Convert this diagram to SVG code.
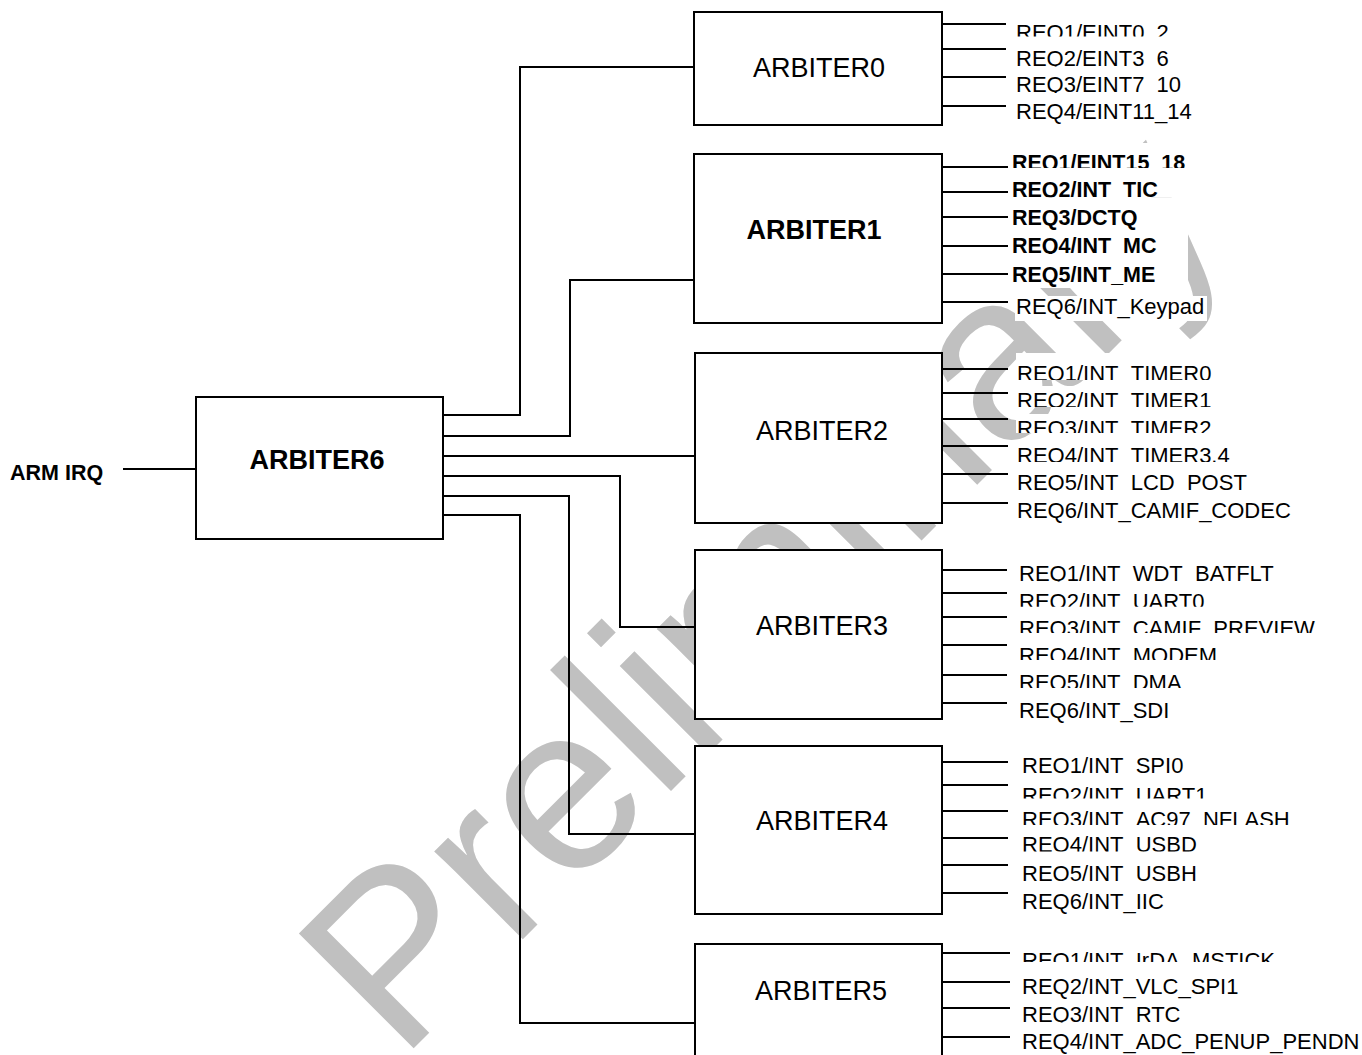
<svg xmlns="http://www.w3.org/2000/svg" width="1362" height="1055" viewBox="0 0 1362 1055">
<style>
.box{fill:#fff;stroke:#000;stroke-width:2}
.wire{fill:none;stroke:#000;stroke-width:2}
.t{font-family:"Liberation Sans",Arial,sans-serif;font-size:22px;fill:#000}
.b{font-weight:bold;font-size:21.5px}
.name{font-size:27px;text-anchor:middle}
.bg{fill:#fff}
.wm{font-family:"Liberation Sans",Arial,sans-serif;font-size:236px;fill:#c0c0c0}
</style>
<defs>
<clipPath id="c0a" clipPathUnits="userSpaceOnUse"><rect x="1000" y="0" width="400" height="36.5"/></clipPath>
<clipPath id="c0b" clipPathUnits="userSpaceOnUse"><rect x="1000" y="30" width="400" height="36.5"/></clipPath>
<clipPath id="c0c" clipPathUnits="userSpaceOnUse"><rect x="1000" y="60" width="400" height="33"/></clipPath>
<clipPath id="c1a" clipPathUnits="userSpaceOnUse"><rect x="1000" y="140" width="400" height="28"/></clipPath>
<clipPath id="c1b" clipPathUnits="userSpaceOnUse"><rect x="1000" y="170" width="400" height="27.5"/></clipPath>
<clipPath id="c1d" clipPathUnits="userSpaceOnUse"><rect x="1000" y="230" width="400" height="24"/></clipPath>
<clipPath id="c2a" clipPathUnits="userSpaceOnUse"><rect x="1000" y="350" width="400" height="30"/></clipPath>
<clipPath id="c2b" clipPathUnits="userSpaceOnUse"><rect x="1000" y="380" width="400" height="27"/></clipPath>
<clipPath id="c2c" clipPathUnits="userSpaceOnUse"><rect x="1000" y="410" width="400" height="23"/></clipPath>
<clipPath id="c2d" clipPathUnits="userSpaceOnUse"><rect x="1000" y="435" width="400" height="27"/></clipPath>
<clipPath id="c2e" clipPathUnits="userSpaceOnUse"><rect x="1000" y="465" width="400" height="25.5"/></clipPath>
<clipPath id="c3a" clipPathUnits="userSpaceOnUse"><rect x="1000" y="555" width="400" height="26.5"/></clipPath>
<clipPath id="c3b" clipPathUnits="userSpaceOnUse"><rect x="1000" y="585" width="400" height="21.7"/></clipPath>
<clipPath id="c3c" clipPathUnits="userSpaceOnUse"><rect x="1000" y="610" width="400" height="23"/></clipPath>
<clipPath id="c3d" clipPathUnits="userSpaceOnUse"><rect x="1000" y="638" width="400" height="22"/></clipPath>
<clipPath id="c3e" clipPathUnits="userSpaceOnUse"><rect x="1000" y="665" width="400" height="23"/></clipPath>
<clipPath id="c4a" clipPathUnits="userSpaceOnUse"><rect x="1000" y="745" width="400" height="28"/></clipPath>
<clipPath id="c4b" clipPathUnits="userSpaceOnUse"><rect x="1000" y="778" width="400" height="20.5"/></clipPath>
<clipPath id="c4c" clipPathUnits="userSpaceOnUse"><rect x="1000" y="803" width="400" height="22"/></clipPath>
<clipPath id="c4d" clipPathUnits="userSpaceOnUse"><rect x="1000" y="828" width="400" height="23.5"/></clipPath>
<clipPath id="c4e" clipPathUnits="userSpaceOnUse"><rect x="1000" y="857" width="400" height="24"/></clipPath>
<clipPath id="c5a" clipPathUnits="userSpaceOnUse"><rect x="1000" y="944" width="400" height="18"/></clipPath>
<clipPath id="c5c" clipPathUnits="userSpaceOnUse"><rect x="1000" y="998" width="400" height="24.5"/></clipPath>
</defs>

<text class="wm" transform="translate(400 1062) rotate(-45)">Preliminary</text>

<g id="connectors">
<path class="wire" d="M123 469H196"/>
<path class="wire" d="M443 415H520V67H694"/>
<path class="wire" d="M443 436H570V280H694"/>
<path class="wire" d="M443 456H695"/>
<path class="wire" d="M443 476H620V627H695"/>
<path class="wire" d="M443 496H569V834H695"/>
<path class="wire" d="M443 515H520V1023H695"/>
<path class="wire" d="M942 24H1006M942 49H1006M942 77H1006M942 106H1006"/>
<path class="wire" d="M942 167H1008M942 192H1008M942 217H1008M942 246H1008M942 274H1008M942 302H1008"/>
<path class="wire" d="M942 369H1008M942 393H1008M942 419H1008M942 446H1008M942 474H1008M942 503H1008"/>
<path class="wire" d="M942 570H1007M942 593H1007M942 617H1007M942 645H1007M942 675H1007M942 703H1007"/>
<path class="wire" d="M942 762H1008M942 785H1008M942 811H1008M942 838H1008M942 865H1008M942 893H1008"/>
<path class="wire" d="M942 953H1010M942 982H1010M942 1008H1010M942 1037H1010"/>
</g>

<g id="arm-irq">
<text class="t b" x="10" y="480">ARM IRQ</text>
</g>

<g id="arbiter6">
<rect class="box" x="196" y="397" width="247" height="142"/>
<text class="t b name" x="317" y="469">ARBITER6</text>
</g>

<g id="arbiter0">
<rect class="box" x="694" y="12" width="248" height="113"/>
<text class="t name" x="819" y="77">ARBITER0</text>
<rect class="bg" x="1015" y="21" width="157" height="15.5"/>
<text class="t" x="1016" y="39.5" clip-path="url(#c0a)">REQ1/EINT0_2</text>
<rect class="bg" x="1015" y="47" width="157" height="19.5"/>
<text class="t" x="1016" y="65.8" clip-path="url(#c0b)">REQ2/EINT3_6</text>
<rect class="bg" x="1015" y="74" width="169" height="19"/>
<text class="t" x="1016" y="92.4" clip-path="url(#c0c)">REQ3/EINT7_10</text>
<rect class="bg" x="1015" y="100" width="181" height="25"/>
<text class="t" x="1016" y="119">REQ4/EINT11_14</text>
</g>

<g id="arbiter1">
<rect class="box" x="694" y="154" width="248" height="169"/>
<text class="t b name" x="814" y="239">ARBITER1</text>
<rect class="bg" x="1011" y="143" width="184" height="25"/>
<text class="t b" x="1012" y="170.4" clip-path="url(#c1a)">REQ1/EINT15_18</text>
<rect class="bg" x="1011" y="168" width="177" height="29.5"/>
<text class="t b" x="1012" y="197" clip-path="url(#c1b)">REQ2/INT_TIC</text>
<rect class="bg" x="1011" y="197.5" width="177" height="32.5"/>
<text class="t b" x="1012" y="225.4">REQ3/DCTQ</text>
<rect class="bg" x="1011" y="230" width="177" height="24"/>
<text class="t b" x="1012" y="253.4" clip-path="url(#c1d)">REQ4/INT_MC</text>
<rect class="bg" x="1011" y="254" width="177" height="34"/>
<text class="t b" x="1012" y="282">REQ5/INT_ME</text>
<rect class="bg" x="1015" y="296" width="192" height="25"/>
<text class="t" x="1016" y="314">REQ6/INT_Keypad</text>
</g>

<g id="arbiter2">
<rect class="box" x="695" y="353" width="247" height="170"/>
<text class="t name" x="822" y="440">ARBITER2</text>
<rect class="bg" x="1016" y="353" width="199" height="27"/>
<text class="t" x="1017" y="381" clip-path="url(#c2a)">REQ1/INT_TIMER0</text>
<rect class="bg" x="1016" y="386" width="199" height="21"/>
<text class="t" x="1017" y="407.5" clip-path="url(#c2b)">REQ2/INT_TIMER1</text>
<rect class="bg" x="1016" y="414" width="199" height="19"/>
<text class="t" x="1017" y="435.8" clip-path="url(#c2c)">REQ3/INT_TIMER2</text>
<rect class="bg" x="1016" y="441" width="217" height="21"/>
<text class="t" x="1017" y="462.5" clip-path="url(#c2d)">REQ4/INT_TIMER3.4</text>
<rect class="bg" x="1016" y="468" width="234" height="22.5"/>
<text class="t" x="1017" y="489.8" clip-path="url(#c2e)">REQ5/INT_LCD_POST</text>
<rect class="bg" x="1016" y="496" width="278" height="27"/>
<text class="t" x="1017" y="517.5">REQ6/INT_CAMIF_CODEC</text>
</g>

<g id="arbiter3">
<rect class="box" x="695" y="550" width="247" height="169"/>
<text class="t name" x="822" y="635">ARBITER3</text>
<text class="t" x="1019" y="580.8" clip-path="url(#c3a)">REQ1/INT_WDT_BATFLT</text>
<text class="t" x="1019" y="608.5" clip-path="url(#c3b)">REQ2/INT_UART0</text>
<text class="t" x="1019" y="635.8" clip-path="url(#c3c)">REQ3/INT_CAMIF_PREVIEW</text>
<text class="t" x="1019" y="662.5" clip-path="url(#c3d)">REQ4/INT_MODEM</text>
<text class="t" x="1019" y="689.8" clip-path="url(#c3e)">REQ5/INT_DMA</text>
<text class="t" x="1019" y="717.5">REQ6/INT_SDI</text>
</g>

<g id="arbiter4">
<rect class="box" x="695" y="746" width="247" height="168"/>
<text class="t name" x="822" y="830">ARBITER4</text>
<text class="t" x="1022" y="772.5" clip-path="url(#c4a)">REQ1/INT_SPI0</text>
<text class="t" x="1022" y="802.5" clip-path="url(#c4b)">REQ2/INT_UART1</text>
<text class="t" x="1022" y="827.4" clip-path="url(#c4c)">REQ3/INT_AC97_NFLASH</text>
<text class="t" x="1022" y="852.4" clip-path="url(#c4d)">REQ4/INT_USBD</text>
<text class="t" x="1022" y="880.7" clip-path="url(#c4e)">REQ5/INT_USBH</text>
<text class="t" x="1022" y="909">REQ6/INT_IIC</text>
</g>

<g id="arbiter5">
<rect class="box" x="695" y="944" width="247" height="130"/>
<text class="t name" x="821" y="1000">ARBITER5</text>
<text class="t" x="1022" y="967.5" clip-path="url(#c5a)">REQ1/INT_IrDA_MSTICK</text>
<text class="t" x="1022" y="994">REQ2/INT_VLC_SPI1</text>
<text class="t" x="1022" y="1021.8" clip-path="url(#c5c)">REQ3/INT_RTC</text>
<text class="t" x="1022" y="1049">REQ4/INT_ADC_PENUP_PENDN</text>
</g>
</svg>
